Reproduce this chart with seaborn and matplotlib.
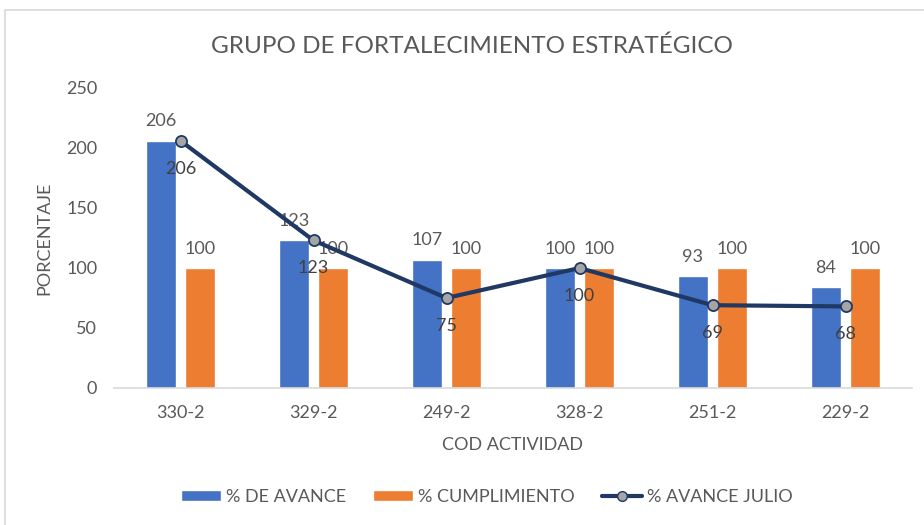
import matplotlib.pyplot as plt
import numpy as np
import pandas as pd
import seaborn as sns
from matplotlib.lines import Line2D
from matplotlib.patches import Patch, Rectangle

codes = ['330-2', '329-2', '249-2', '328-2', '251-2', '229-2']
avance = [206, 123, 107, 100, 93, 84]
cumplimiento = [100, 100, 100, 100, 100, 100]
avance_julio = [206, 123, 75, 100, 69, 68]

BLUE = '#4472C4'
ORANGE = '#ED7D31'
NAVY = '#203864'
GREY_TXT = '#595959'

sns.set_theme(style='white')
plt.rcParams['font.family'] = ['Lato', 'DejaVu Sans']

df = pd.DataFrame({
    'cod': codes * 2,
    'valor': avance + cumplimiento,
    'serie': ['% DE AVANCE'] * 6 + ['% CUMPLIMIENTO'] * 6,
})

fig = plt.figure(figsize=(9.24, 5.25), dpi=100)
fig.patches.append(Rectangle((5 / 924, -0.1), 1.2, 1 - 10 / 525 + 0.1, transform=fig.transFigure,
                             fill=False, edgecolor='#D9D9D9', linewidth=1.2))
ax = fig.add_axes([114 / 924, 1 - 388 / 525, (912 - 114) / 924, 300 / 525])

sns.barplot(data=df, x='cod', y='valor', hue='serie', order=codes,
            palette=[BLUE, ORANGE], width=0.59, gap=0.23, saturation=1,
            legend=False, ax=ax)
sns.lineplot(x=np.arange(len(codes)), y=avance_julio, color=NAVY, linewidth=3,
             marker='o', markersize=8, markerfacecolor='#A5A5A5',
             markeredgecolor=NAVY, markeredgewidth=1.3, ax=ax, zorder=5)

# etiquetas de datos
for i in range(len(codes)):
    ax.annotate(str(avance[i]), (i - 0.147, avance[i]), xytext=(0, 14), textcoords='offset points',
                ha='center', va='center', fontsize=13, color=GREY_TXT)
    ax.annotate(str(cumplimiento[i]), (i + 0.147, cumplimiento[i]), xytext=(0, 14),
                textcoords='offset points', ha='center', va='center', fontsize=13, color=GREY_TXT)
    ax.annotate(str(avance_julio[i]), (i, avance_julio[i]), xytext=(0, -20), textcoords='offset points',
                ha='center', va='center', fontsize=13, color='#404040', zorder=6)

ax.set_xlim(-0.5, len(codes) - 0.5)
ax.set_ylim(0, 250)
ax.set_yticks([0, 50, 100, 150, 200, 250])
ax.tick_params(axis='y', labelsize=13, colors=GREY_TXT, length=0, pad=12)
ax.tick_params(axis='x', labelsize=13, colors=GREY_TXT, length=0, pad=12)
ax.set_xlabel('COD ACTIVIDAD', fontsize=13, color=GREY_TXT, labelpad=12)
ax.set_ylabel('PORCENTAJE', fontsize=13, color=GREY_TXT, labelpad=10)
for s in ['top', 'right', 'left']:
    ax.spines[s].set_visible(False)
ax.spines['bottom'].set_color('#D9D9D9')
ax.spines['bottom'].set_linewidth(1.2)

fig.text(472 / 924, 1 - 46 / 525, 'GRUPO DE FORTALECIMIENTO ESTRATÉGICO', ha='center', va='center',
         fontsize=17.5, color=GREY_TXT)

handles = [Patch(facecolor=BLUE), Patch(facecolor=ORANGE),
           Line2D([], [], color=NAVY, linewidth=3, marker='o', markersize=7,
                  markerfacecolor='#A5A5A5', markeredgecolor=NAVY)]
fig.legend(handles, ['% DE AVANCE', '% CUMPLIMIENTO', '% AVANCE JULIO'], loc='center',
           bbox_to_anchor=(487 / 924, 1 - 497 / 525), ncol=3, frameon=False, fontsize=13,
           labelcolor=GREY_TXT, handlelength=2.2, handleheight=0.5, handletextpad=0.3,
           columnspacing=1.5)

fig.savefig('out.png', dpi=100)
